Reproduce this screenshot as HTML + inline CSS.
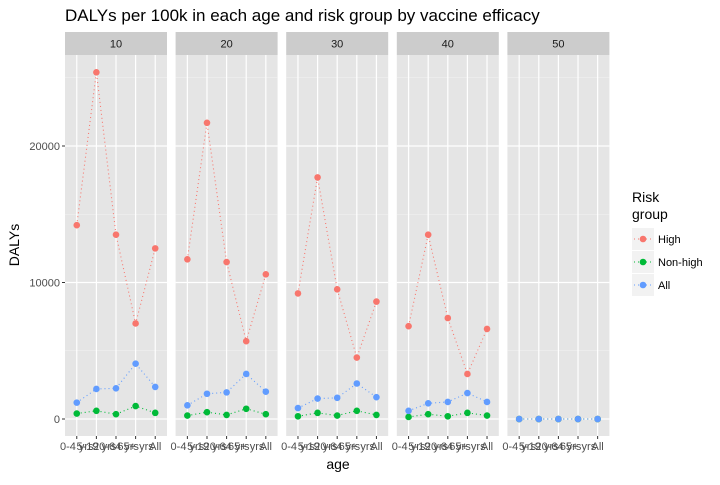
<!DOCTYPE html>
<html><head><meta charset="utf-8"><style>
body{margin:0;background:#fff;font-family:"Liberation Sans",sans-serif}
svg text{font-family:"Liberation Sans",sans-serif}
</style></head><body>
<svg id="c" width="720" height="480" xmlns="http://www.w3.org/2000/svg"></svg>
<script>
const panels = ["10","20","30","40","50"];
const categories = ["0-4 yrs","5-19 yrs","20-64 yrs","65+ yrs","All"];
const groups = ["High","Non-high","All"];
const colors = ["#F8766D","#00BA38","#619CFF"];
const highVals = [[14200,25400,13500,7000,12500],[11700,21700,11500,5700,10600],[9200,17700,9500,4500,8600],[6800,13500,7400,3300,6600],[0,0,0,0,0]];
const nonHighVals = [[400,600,350,950,450],[250,500,300,750,350],[200,450,250,600,300],[150,350,200,450,250],[0,0,0,0,0]];
const allVals = [[1200,2200,2250,4050,2350],[1000,1850,1950,3300,2000],[800,1500,1550,2600,1600],[600,1150,1250,1900,1250],[0,0,0,0,0]];
const yTicks = [0,10000,20000];
const yMinor = [5000,15000,25000];

const svg = document.getElementById('c');
const NS = "http://www.w3.org/2000/svg";
function mk(tag, attrs, parent){const e=document.createElementNS(NS,tag);for(const k in attrs)e.setAttribute(k,attrs[k]);(parent||svg).appendChild(e);return e;}
const ptop=55, pbottom=436, pw=102;
const y = v => 419 - v*(273/20000);
const px = i => 65 + i*110.6;
const x = (i,j) => px(i) + pw*(j+0.6)/5.2;
const series=[highVals,nonHighVals,allVals];

let t=mk('text',{x:65,y:21,'font-size':17,fill:'#000'});


t.textContent="DALYs per 100k in each age and risk group by vaccine efficacy";

panels.forEach((p,i)=>{
  const g=mk('g',{});
  
  
  mk('rect',{x:px(i),y:ptop,width:pw,height:pbottom-ptop,fill:'#E5E5E5'},g);
  yMinor.forEach(v=>mk('line',{x1:px(i),x2:px(i)+pw,y1:y(v),y2:y(v),stroke:'#F2F2F2','stroke-width':0.6},g));
  yTicks.forEach(v=>mk('line',{x1:px(i),x2:px(i)+pw,y1:y(v),y2:y(v),stroke:'#fff','stroke-width':1.2},g));
  categories.forEach((c,j)=>{
    mk('line',{x1:x(i,j),x2:x(i,j),y1:ptop,y2:pbottom,stroke:'#fff','stroke-width':1.2},g);
    mk('line',{x1:x(i,j),x2:x(i,j),y1:pbottom,y2:pbottom+3,stroke:'#333'},g);
    const l=mk('text',{x:x(i,j),y:pbottom+14,'font-size':11,fill:'#4D4D4D','text-anchor':'middle'},g);
    
    
    l.textContent=c;
  });
  const s=mk('rect',{x:px(i),y:32,width:pw,height:23,fill:'#CCCCCC'},g);
  
  
  const st=mk('text',{x:px(i)+pw/2,y:47.5,'font-size':11,fill:'#1A1A1A','text-anchor':'middle'},g);
  
  
  st.textContent=p;
  series.forEach((arr,k)=>{
    const pts=arr[i].map((v,j)=>x(i,j)+','+y(v)).join(' ');
    const pl=mk('polyline',{points:pts,fill:'none',stroke:colors[k],'stroke-width':1.1,'stroke-dasharray':'1 3'},g);
    
    
    arr[i].forEach((v,j)=>{
      const c=mk('circle',{cx:x(i,j),cy:y(v),r:3.3,fill:colors[k]},g);
      
      
    });
  });
});
yTicks.forEach(v=>{
  mk('line',{x1:62,x2:65,y1:y(v),y2:y(v),stroke:'#333'});
  const l=mk('text',{x:60,y:y(v)+4,'font-size':11,fill:'#4D4D4D','text-anchor':'end'});
  
  
  l.textContent=v;
});
let yt=mk('text',{x:0,y:0,'font-size':14,fill:'#000','text-anchor':'middle',transform:'translate(19,245) rotate(-90)'});


yt.textContent="DALYs";
let xt=mk('text',{x:338,y:469,'font-size':14,fill:'#000','text-anchor':'middle'});


xt.textContent="age";
let lt=mk('text',{x:632,y:202,'font-size':14,fill:'#000'});


lt.innerHTML='<tspan x="632">Risk</tspan><tspan x="632" dy="17">group</tspan>';
groups.forEach((gname,k)=>{
  const g=mk('g',{});
  
  
  const yy=228+k*23;
  mk('rect',{x:632,y:yy,width:22,height:22,fill:'#F2F2F2'},g);
  mk('line',{x1:634,x2:652,y1:yy+11,y2:yy+11,stroke:colors[k],'stroke-dasharray':'1 3'},g);
  mk('circle',{cx:643,cy:yy+11,r:3.3,fill:colors[k]},g);
  const tx=mk('text',{x:658,y:yy+15,'font-size':11,fill:'#000'},g);
  tx.textContent=gname;
});
</script>
</body></html>
